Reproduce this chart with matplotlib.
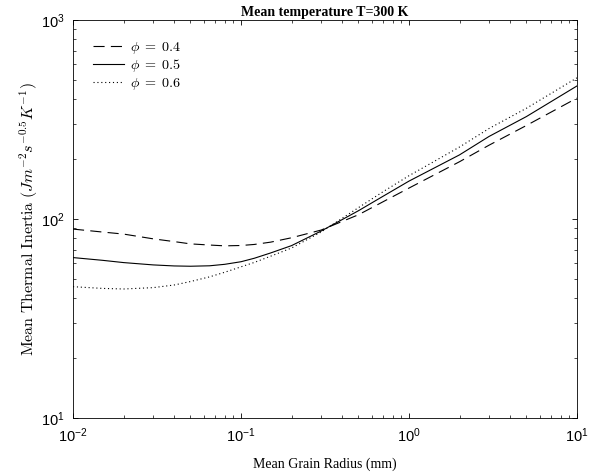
import matplotlib
matplotlib.use('Agg')
import matplotlib.pyplot as plt

# grain radius (mm) and mean thermal inertia for three porosities
radius = [0.01, 0.015, 0.02, 0.03, 0.04, 0.05, 0.065, 0.08, 0.1, 0.12, 0.15, 0.2, 0.3, 0.5, 0.7, 1, 2, 3, 5, 10]
ti_04 = [89, 86, 84, 79.5, 77, 75, 74, 73.3, 73.6, 74.5, 76.5, 80.5, 88, 105, 122, 143, 194, 235, 295, 405]
ti_05 = [64, 62, 60.4, 58.8, 58.1, 57.9, 58.2, 59.2, 61, 63.5, 67.5, 73.5, 87, 110, 130, 155, 210, 260, 327, 466]
ti_06 = [45.7, 44.8, 44.5, 45.2, 46.6, 48.5, 51.2, 54, 57.5, 60.5, 65, 71.5, 86, 114, 137, 165, 230, 285, 360, 512]
labels = [r'$\phi \;=\; 0.4$', r'$\phi \;=\; 0.5$', r'$\phi \;=\; 0.6$']

plt.rcParams['font.family'] = 'Liberation Sans'
plt.rcParams['mathtext.fontset'] = 'cm'
plt.rcParams['lines.scale_dashes'] = False

fig = plt.figure(figsize=(6.06, 4.76), dpi=100)
ax = fig.add_axes([0.1205, 0.1218, 0.8315, 0.8362])

ax.plot(radius, ti_04, color='k', lw=0.8, dashes=(8, 4.5), label=labels[0])
ax.plot(radius, ti_05, color='k', lw=0.8, label=labels[1])
ax.plot(radius, ti_06, color='k', lw=0.8, dashes=(0.8, 2.0), label=labels[2])

ax.set_xscale('log')
ax.set_yscale('log')
ax.set_xlim(1e-2, 1e1)
ax.set_ylim(1e1, 1e3)

ax.tick_params(which='both', direction='in', top=True, right=True, labelsize=10.5)
ax.tick_params(which='major', length=3.5, width=0.6, pad=6)
ax.tick_params(which='minor', length=2.2, width=0.5)
for s in ax.spines.values():
    s.set_linewidth(0.6)

ax.set_xlabel('Mean Grain Radius (mm)', family='Liberation Serif', fontsize=10, labelpad=9)
ax.set_ylabel(r'$\mathrm{Mean\ Thermal\ Inertia\ (}Jm^{-2}s^{-0.5}K^{-1}\mathrm{)}$',
              fontsize=11.5, labelpad=1)
ax.set_title('Mean temperature T=300 K', family='Liberation Serif',
             fontweight='bold', fontsize=10, pad=3)

ax.legend(loc='upper left', frameon=False, fontsize=10.2, handlelength=2.2,
          handletextpad=0.4, labelspacing=0.1, borderaxespad=1.0)

fig.savefig('out.png', dpi=100)
